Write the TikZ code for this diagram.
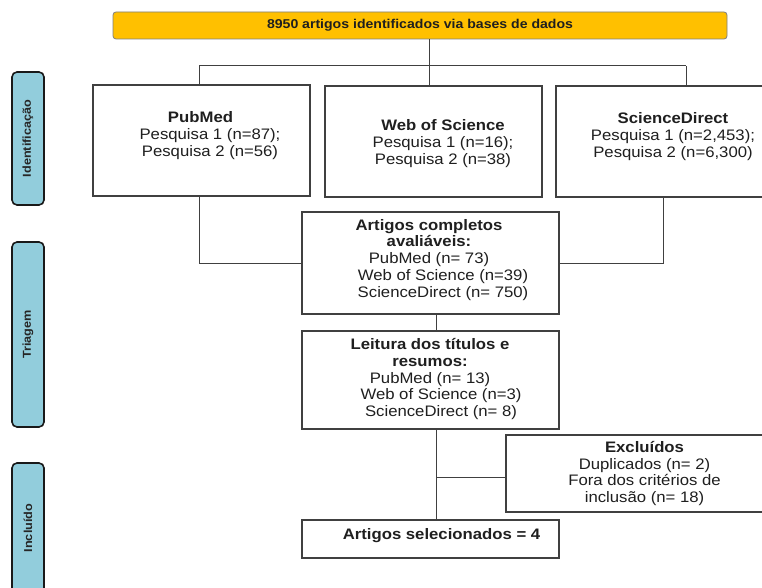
\documentclass[tikz,border=0pt]{standalone}
\usepackage{fontspec}
\setmainfont{Liberation Sans}[FakeStretch=1.1]
\definecolor{dbyellow}{HTML}{FFC000}
\definecolor{phaseblue}{HTML}{92CDDC}
\definecolor{linegray}{HTML}{404040}
\definecolor{framegray}{HTML}{7F7F7F}
\newcommand{\boxfont}{\fontsize{15.2}{16.7}\selectfont}

\begin{document}
\begin{tikzpicture}[x=1pt, y=-1pt,
  box/.style={draw=linegray, line width=1.1pt, fill=white, inner sep=0pt, align=center, font=\boxfont, text=black!88},
  boxtxt/.style={align=center, inner sep=0pt, font=\boxfont, text=black!88},
  phase/.style={draw=black!90, line width=1.6pt, fill=phaseblue, rounded corners=5pt, rotate=90, minimum height=32pt, inner sep=0pt, text=black!85, font=\bfseries\fontsize{11.5}{13}\selectfont},
  link/.style={draw=linegray, line width=1pt}
]
\fill[white] (0,0) rectangle (762,588);
\useasboundingbox (0,0) rectangle (762,588);

% fases
\node[phase, minimum width=133pt] (ident) at (28,138.5) {Identificação};
\node[phase, minimum width=185pt] (triag) at (28,334.5) {Triagem};
\node[phase, minimum width=130pt] (incl) at (28,528) {Incluído};

% caixas
\node[box, fill=dbyellow, draw=framegray, line width=0.8pt, rounded corners=3pt, minimum width=614pt, minimum height=27pt, font=\bfseries\fontsize{12.8}{15}\selectfont] (total) at (420,25.5) {8950 artigos identificados via bases de dados};
\node[box, minimum width=217pt, minimum height=111pt] (pubmed) at (201.5,140.5) {};
\node[boxtxt] (pubmed-t) at ([xshift=8.5pt,yshift=5pt]pubmed.center) {\textbf{PubMed}\hspace*{19pt}\\Pesquisa 1 (n=87);\\Pesquisa 2 (n=56)};
\node[box, minimum width=217pt, minimum height=111pt] (wos) at (433.5,141.5) {};
\node[boxtxt] (wos-t) at ([xshift=9.5pt,yshift=-2pt]wos.center) {\textbf{Web of Science}\\Pesquisa 1 (n=16);\\Pesquisa 2 (n=38)};
\node[box, minimum width=216pt, minimum height=111pt] (sd) at (664,141.5) {};
\node[boxtxt] (sd-t) at ([xshift=9pt,yshift=5pt]sd.center) {\textbf{ScienceDirect}\\Pesquisa 1 (n=2,453);\\Pesquisa 2 (n=6,300)};
\node[box, minimum width=257pt, minimum height=102pt] (avail) at (430.5,263) {};
\node[boxtxt] (avail-t) at ([xshift=-1.5pt,yshift=3.3pt]avail.center) {\textbf{Artigos completos}\\\textbf{avaliáveis:}\\PubMed (n= 73)\\\hspace*{28pt}Web of Science (n=39)\\\hspace*{28pt}ScienceDirect (n= 750)};
\node[box, minimum width=257pt, minimum height=98pt] (leit) at (430.5,380) {};
\node[boxtxt] (leit-t) at ([xshift=-0.5pt,yshift=1pt]leit.center) {\textbf{Leitura dos títulos e}\\\textbf{resumos:}\\PubMed (n= 13)\\\hspace*{22pt}Web of Science (n=3)\\\hspace*{22pt}ScienceDirect (n= 8)};
\node[box, minimum width=277pt, minimum height=77pt] (excl) at (644.5,473.5) {\textbf{Excluídos}\\Duplicados (n= 2)\\Fora dos critérios de\\inclusão (n= 18)};
\node[box, minimum width=257pt, minimum height=38pt] (sel) at (430.5,539) {};
\node[boxtxt] (sel-t) at ([xshift=11pt,yshift=3.4pt]sel.center) {\textbf{Artigos selecionados = 4}};

% ligacoes
\coordinate (busL) at (199,66);
\coordinate (busM) at (429,66);
\coordinate (busR) at (686,66);
\coordinate (dropR) at (663,262);
\coordinate (spine) at (436,477);
\draw[link] (total.south -| busM) -- (wos.north -| busM);
\draw[link] (busL) -- (busR);
\draw[link] (busL) -- (pubmed.north -| busL);
\draw[link] (busR) -- (sd.north -| busR);
\draw[link] (pubmed.south -| busL) |- (avail.west);
\draw[link] (sd.south -| dropR) |- (avail.east);
\draw[link] (avail.south -| spine) -- (leit.north -| spine);
\draw[link] (leit.south -| spine) -- (sel.north -| spine);
\draw[link] (spine) -- (spine -| excl.west);
\end{tikzpicture}
\end{document}
